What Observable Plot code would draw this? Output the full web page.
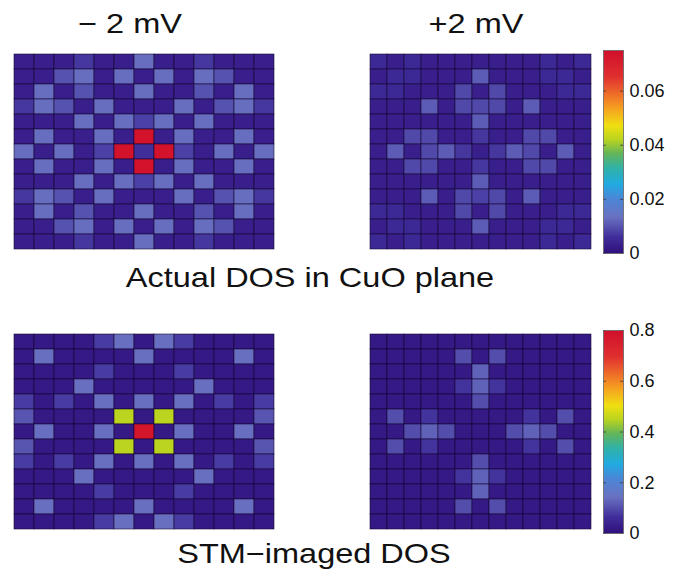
<!DOCTYPE html>
<html><head><meta charset="utf-8">
<script src="https://cdn.jsdelivr.net/npm/d3@7"></script>
<script src="https://cdn.jsdelivr.net/npm/@observablehq/plot@0.6"></script>
<style>
body{margin:0;background:#fff;}
#root{position:relative;width:691px;height:578px;overflow:hidden;background:#fff;font-family:"Liberation Sans",Arial,Helvetica,sans-serif;}
.t{position:absolute;font-size:28px;line-height:28px;color:#111;text-align:center;white-space:nowrap;transform:scaleX(1.16);transform-origin:center;}
.p{position:absolute;}
.p svg{display:block;}
</style></head><body><div id="root"></div>
<script>
// ---- texts ----
const columnTitles = ["\u2212 2 mV", "+2 mV"];
const rowTitles = ["Actual DOS in CuO plane", "STM\u2212imaged DOS"];
// ---- colour bar ticks ----
const topTicks = [0, 0.02, 0.04, 0.06];
const bottomTicks = [0, 0.2, 0.4, 0.6, 0.8];
const topDomain = [0, 0.075];
const bottomDomain = [0, 0.8];

// ---- 13x13 grids (row 0 = top) ----
const actualMinus2 = [
 [0.003,0.003,0.003,0.007,0.003,0.003,0.013,0.003,0.003,0.007,0.003,0.003,0.003],
 [0.003,0.003,0.010,0.013,0.003,0.013,0.003,0.013,0.003,0.013,0.010,0.003,0.003],
 [0.003,0.013,0.003,0.010,0.003,0.003,0.013,0.003,0.003,0.010,0.003,0.013,0.003],
 [0.007,0.013,0.010,0.003,0.013,0.003,0.003,0.003,0.013,0.003,0.010,0.013,0.007],
 [0.003,0.003,0.003,0.013,0.003,0.013,0.008,0.013,0.003,0.013,0.003,0.003,0.003],
 [0.003,0.013,0.003,0.003,0.013,0.003,0.074,0.003,0.013,0.003,0.003,0.013,0.003],
 [0.013,0.003,0.013,0.003,0.008,0.074,0.006,0.074,0.008,0.003,0.013,0.003,0.013],
 [0.003,0.013,0.003,0.003,0.013,0.003,0.074,0.003,0.013,0.003,0.003,0.013,0.003],
 [0.003,0.003,0.003,0.013,0.003,0.013,0.008,0.013,0.003,0.013,0.003,0.003,0.003],
 [0.007,0.013,0.010,0.003,0.013,0.003,0.003,0.003,0.013,0.003,0.010,0.013,0.007],
 [0.003,0.013,0.003,0.010,0.003,0.003,0.013,0.003,0.003,0.010,0.003,0.013,0.003],
 [0.003,0.003,0.010,0.013,0.003,0.013,0.003,0.013,0.003,0.013,0.010,0.003,0.003],
 [0.003,0.003,0.003,0.007,0.003,0.003,0.013,0.003,0.003,0.007,0.003,0.003,0.003]
];
const actualPlus2 = [
 [0.005,0.003,0.005,0.003,0.003,0.003,0.003,0.003,0.003,0.003,0.005,0.003,0.005],
 [0.003,0.005,0.005,0.003,0.003,0.003,0.011,0.003,0.003,0.003,0.005,0.005,0.003],
 [0.005,0.005,0.003,0.003,0.003,0.009,0.003,0.009,0.003,0.003,0.003,0.005,0.005],
 [0.003,0.003,0.003,0.011,0.003,0.009,0.009,0.009,0.003,0.011,0.003,0.003,0.003],
 [0.003,0.003,0.003,0.003,0.003,0.003,0.011,0.003,0.003,0.003,0.003,0.003,0.003],
 [0.003,0.003,0.009,0.009,0.003,0.003,0.007,0.003,0.003,0.009,0.009,0.003,0.003],
 [0.003,0.011,0.003,0.009,0.011,0.007,0.003,0.007,0.011,0.009,0.003,0.011,0.003],
 [0.003,0.003,0.009,0.009,0.003,0.003,0.007,0.003,0.003,0.009,0.009,0.003,0.003],
 [0.003,0.003,0.003,0.003,0.003,0.003,0.011,0.003,0.003,0.003,0.003,0.003,0.003],
 [0.003,0.003,0.003,0.011,0.003,0.009,0.008,0.009,0.003,0.011,0.003,0.003,0.003],
 [0.005,0.005,0.003,0.003,0.003,0.009,0.003,0.009,0.003,0.003,0.003,0.005,0.005],
 [0.003,0.005,0.005,0.003,0.003,0.003,0.011,0.003,0.003,0.003,0.005,0.005,0.003],
 [0.005,0.003,0.005,0.003,0.003,0.003,0.003,0.003,0.003,0.003,0.005,0.003,0.005]
];
const stmMinus2 = [
 [0.02,0.02,0.02,0.02,0.08,0.14,0.02,0.14,0.08,0.02,0.02,0.02,0.02],
 [0.02,0.14,0.02,0.02,0.02,0.02,0.14,0.02,0.02,0.02,0.02,0.14,0.02],
 [0.02,0.02,0.02,0.02,0.08,0.02,0.02,0.02,0.08,0.02,0.02,0.02,0.02],
 [0.02,0.02,0.02,0.14,0.02,0.02,0.02,0.02,0.02,0.14,0.02,0.02,0.02],
 [0.08,0.02,0.08,0.02,0.14,0.02,0.14,0.02,0.14,0.02,0.08,0.02,0.08],
 [0.11,0.02,0.02,0.02,0.02,0.45,0.02,0.45,0.02,0.02,0.02,0.02,0.11],
 [0.02,0.14,0.02,0.02,0.14,0.02,0.78,0.02,0.14,0.02,0.02,0.14,0.02],
 [0.11,0.02,0.02,0.02,0.02,0.45,0.02,0.45,0.02,0.02,0.02,0.02,0.11],
 [0.08,0.02,0.08,0.02,0.14,0.02,0.14,0.02,0.14,0.02,0.08,0.02,0.08],
 [0.02,0.02,0.02,0.14,0.02,0.02,0.02,0.02,0.02,0.14,0.02,0.02,0.02],
 [0.02,0.02,0.02,0.02,0.08,0.02,0.02,0.02,0.08,0.02,0.02,0.02,0.02],
 [0.02,0.14,0.02,0.02,0.02,0.02,0.14,0.02,0.02,0.02,0.02,0.14,0.02],
 [0.02,0.02,0.02,0.02,0.08,0.14,0.02,0.14,0.08,0.02,0.02,0.02,0.02]
];
const stmPlus2 = [
 [0.02,0.02,0.02,0.02,0.02,0.02,0.02,0.02,0.02,0.02,0.02,0.02,0.02],
 [0.02,0.02,0.02,0.02,0.02,0.10,0.02,0.10,0.02,0.02,0.02,0.02,0.02],
 [0.02,0.02,0.02,0.02,0.02,0.02,0.125,0.02,0.02,0.02,0.02,0.02,0.02],
 [0.02,0.02,0.02,0.02,0.02,0.07,0.125,0.07,0.02,0.02,0.02,0.02,0.02],
 [0.02,0.02,0.02,0.02,0.02,0.02,0.10,0.02,0.02,0.02,0.02,0.02,0.02],
 [0.02,0.10,0.02,0.07,0.02,0.02,0.02,0.02,0.02,0.07,0.02,0.10,0.02],
 [0.02,0.02,0.10,0.125,0.10,0.02,0.02,0.02,0.10,0.125,0.10,0.02,0.02],
 [0.02,0.10,0.02,0.07,0.02,0.02,0.02,0.02,0.02,0.07,0.02,0.10,0.02],
 [0.02,0.02,0.02,0.02,0.02,0.02,0.10,0.02,0.02,0.02,0.02,0.02,0.02],
 [0.02,0.02,0.02,0.02,0.02,0.07,0.125,0.07,0.02,0.02,0.02,0.02,0.02],
 [0.02,0.02,0.02,0.02,0.02,0.02,0.125,0.02,0.02,0.02,0.02,0.02,0.02],
 [0.02,0.02,0.02,0.02,0.02,0.10,0.02,0.10,0.02,0.02,0.02,0.02,0.02],
 [0.02,0.02,0.02,0.02,0.02,0.02,0.02,0.02,0.02,0.02,0.02,0.02,0.02]
];

// ---- colour map (jet-like, indigo base) ----
const cmapStops = [0, 0.08, 0.18, 0.27, 0.34, 0.42, 0.49, 0.56, 0.63, 0.71, 0.79, 0.87, 1];
const cmapColors = ["#30107c","#402e9a","#6a72c2","#4c86d6","#22aae2","#30b2a8","#62b45c","#b8d420","#f0e010","#f6a420","#ee6a2a","#e03030","#d0102a"];
const cmapScale = d3.scaleLinear().domain(cmapStops).range(cmapColors).interpolate(d3.interpolateRgb).clamp(true);
const cmap = t => cmapScale(t);

const root = document.getElementById("root");
function place(node, left, top) {
  const d = document.createElement("div");
  d.className = "p";
  d.style.left = left + "px";
  d.style.top = top + "px";
  d.appendChild(node);
  root.appendChild(d);
}
function title(text, cx, top, w) {
  const d = document.createElement("div");
  d.className = "t";
  d.textContent = text;
  d.style.left = (cx - w / 2) + "px";
  d.style.width = w + "px";
  d.style.top = top + "px";
  root.appendChild(d);
}

function panel(values, domain, w, h) {
  const data = values.flatMap((row, r) => row.map((v, c) => ({r, c, v})));
  return Plot.plot({
    width: w + 2, height: h + 2, margin: 1,
    x: {type: "band", domain: d3.range(13), padding: 0, axis: null},
    y: {type: "band", domain: d3.range(13), padding: 0, axis: null},
    color: {type: "linear", domain, interpolate: cmap, clamp: true},
    marks: [
      Plot.cell(data, {x: "c", y: "r", fill: "v", inset: 0, stroke: "#14062e", strokeWidth: 0.8, strokeOpacity: 0.7})
    ]
  });
}

function colorbar(domain, ticks, h, fmt) {
  return Plot.plot({
    width: 22 + 60, height: h + 20, marginLeft: 1, marginRight: 61, marginTop: 10, marginBottom: 10,
    x: {domain: [0, 1], axis: null},
    y: {domain, axis: null},
    color: {type: "linear", domain, interpolate: cmap},
    style: {fontFamily: "Liberation Sans, Arial, sans-serif", color: "#111"},
    marks: [
      Plot.raster({x1: 0, x2: 1, y1: domain[0], y2: domain[1], width: 1, height: 256, fill: (x, y) => y, imageRendering: "auto"}),
      Plot.ruleY(ticks, {x1: 0, x2: 0.14, stroke: "#333", strokeWidth: 0.8}),
      Plot.ruleY(ticks, {x1: 0.86, x2: 1, stroke: "#333", strokeWidth: 0.8}),
      Plot.frame({stroke: "#666", strokeWidth: 0.8}),
      Plot.axisY(ticks, {anchor: "right", tickSize: 0, tickPadding: 6, tickFormat: fmt, fontSize: 18, label: null})
    ]
  });
}

place(panel(actualMinus2, topDomain, 260, 203), 13, 49);
place(panel(actualPlus2, topDomain, 222, 203), 368, 49);
place(panel(stmMinus2, bottomDomain, 260, 204), 13, 328);
place(panel(stmPlus2, bottomDomain, 222, 204), 368, 328);
place(colorbar(topDomain, topTicks, 203, d => d === 0 ? "0" : d3.format(".2f")(d)), 602, 40);
place(colorbar(bottomDomain, bottomTicks, 203, d => d === 0 ? "0" : d3.format(".1f")(d)), 602, 320);

title(columnTitles[0], 130, 10, 200);
title(columnTitles[1], 476, 10, 200);
title(rowTitles[0], 310, 264, 400);
title(rowTitles[1], 314, 540, 400);
</script></body></html>
